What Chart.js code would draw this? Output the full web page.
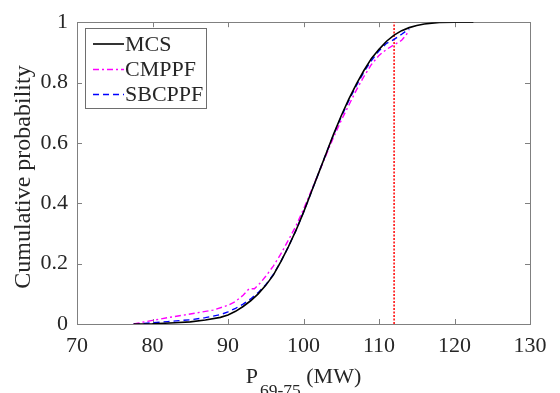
<!DOCTYPE html>
<html>
<head>
<meta charset="utf-8">
<script src="https://cdn.jsdelivr.net/npm/chart.js@4.4.1/dist/chart.umd.min.js"></script>
<style>
  html, body { margin: 0; padding: 0; background: #fff; }
  #wrap { width: 560px; height: 393px; }
  .preload { position: absolute; left: -9999px; font-family: 'Liberation Serif'; font-size: 22px; }
</style>
</head>
<body>
<div class="preload">Cumulative probability 0123456789</div>
<div id="wrap"><canvas id="cdf" width="560" height="393"></canvas></div>
<script>
// values
const mcsX = [77.5, 80, 83, 85, 87, 89, 90, 91, 92, 93, 94, 95, 96, 97, 98, 99, 100, 101, 102, 103, 104, 105, 106, 107, 108, 109, 110, 111, 112, 113, 114, 115, 116, 117, 118, 120, 122.5];
const mcsY = [0, 0.001, 0.004, 0.007, 0.013, 0.022, 0.03, 0.042, 0.058, 0.077, 0.1, 0.128, 0.162, 0.207, 0.256, 0.31, 0.37, 0.435, 0.5, 0.565, 0.63, 0.69, 0.745, 0.795, 0.84, 0.88, 0.91, 0.937, 0.957, 0.972, 0.982, 0.989, 0.994, 0.997, 0.999, 1, 1];

const cmppfX = [77.5, 80, 82, 85, 88, 90, 91, 92, 92.8, 93.5, 94.2, 95, 96, 97, 98, 99, 100, 101, 102, 103, 104, 105, 106, 107, 108, 109, 110, 111, 112, 113, 113.5, 114];
const cmppfY = [0, 0.012, 0.021, 0.033, 0.046, 0.062, 0.075, 0.095, 0.117, 0.117, 0.134, 0.158, 0.192, 0.232, 0.278, 0.325, 0.38, 0.44, 0.5, 0.56, 0.62, 0.675, 0.725, 0.775, 0.82, 0.86, 0.89, 0.91, 0.925, 0.94, 0.955, 0.972];

const sbcppfX = [77.5, 80, 82, 85, 87, 89, 90, 91, 92, 93, 94, 95, 96, 97, 98, 99, 100, 101, 102, 103, 104, 105, 106, 107, 108, 109, 110, 111, 112, 113, 114];
const sbcppfY = [0, 0.004, 0.008, 0.014, 0.021, 0.031, 0.04, 0.052, 0.066, 0.083, 0.104, 0.13, 0.164, 0.207, 0.256, 0.31, 0.37, 0.435, 0.5, 0.565, 0.628, 0.687, 0.74, 0.79, 0.835, 0.873, 0.905, 0.93, 0.943, 0.96, 0.978];

const limitX = [112, 112];
const limitY = [0, 1];

const xTicks = [70, 80, 90, 100, 110, 120, 130];
const yTicks = [0, 0.2, 0.4, 0.6, 0.8, 1];

const FONT = '"Liberation Serif", "Times New Roman", Times, serif';
const TEXT = '#262626';

function pts(xs, ys) {
    return xs.map((x, i) => ({ x: x, y: ys[i] }));
}

const series = [
    { label: 'MCS', data: pts(mcsX, mcsY), borderColor: '#000000', borderDash: [], borderWidth: 1.6 },
    { label: 'CMPPF', data: pts(cmppfX, cmppfY), borderColor: '#ff00ff', borderDash: [6, 3, 2, 3], borderWidth: 1.4 },
    { label: 'SBCPPF', data: pts(sbcppfX, sbcppfY), borderColor: '#0000ff', borderDash: [6, 4], borderWidth: 1.4 }
];

// frame with inward ticks, like the original figure
const framePlugin = {
    id: 'frame',
    beforeDatasetsDraw(chart) {
        const { ctx, chartArea: a, scales } = chart;
        ctx.save();
        ctx.strokeStyle = '#808080';
        ctx.lineWidth = 1;
        ctx.strokeRect(Math.round(a.left) + 0.5, Math.round(a.top) + 0.5, Math.round(a.right - a.left), Math.round(a.bottom - a.top));
        ctx.beginPath();
        xTicks.forEach(v => {
            const px = Math.round(scales.x.getPixelForValue(v)) + 0.5;
            ctx.moveTo(px, a.bottom); ctx.lineTo(px, a.bottom - 5);
            ctx.moveTo(px, a.top); ctx.lineTo(px, a.top + 5);
        });
        yTicks.forEach(v => {
            const py = Math.round(scales.y.getPixelForValue(v)) + 0.5;
            ctx.moveTo(a.left, py); ctx.lineTo(a.left + 5, py);
            ctx.moveTo(a.right, py); ctx.lineTo(a.right - 5, py);
        });
        ctx.stroke();
        ctx.restore();
    },
    afterDraw(chart) {
        const { ctx, chartArea: a } = chart;
        ctx.save();
        ctx.fillStyle = TEXT;

        // y title
        ctx.font = '24px ' + FONT;
        ctx.textAlign = 'center';
        ctx.textBaseline = 'middle';
        ctx.translate(24, 177);
        ctx.rotate(-Math.PI / 2);
        ctx.fillText('Cumulative probability', 0, 0);
        ctx.setTransform(1, 0, 0, 1, 0, 0);

        // x title with subscript
        ctx.textAlign = 'left';
        ctx.textBaseline = 'alphabetic';
        ctx.font = '22px ' + FONT;
        const wP = ctx.measureText('P').width;
        const wU = ctx.measureText(' (MW)').width;
        ctx.font = '17.5px ' + FONT;
        const wS = ctx.measureText('69-75').width;
        const total = wP + 2 + wS + wU;
        let x = (a.left + a.right) / 2 - total / 2;
        ctx.font = '22px ' + FONT;
        ctx.fillText('P', x, 383);
        x += wP + 2;
        ctx.font = '17.5px ' + FONT;
        ctx.fillText('69-75', x, 396);
        x += wS;
        ctx.font = '22px ' + FONT;
        ctx.fillText(' (MW)', x, 383);

        // legend
        ctx.fillStyle = '#ffffff';
        ctx.fillRect(86, 28, 121, 80);
        ctx.strokeStyle = '#6e6e6e';
        ctx.lineWidth = 1;
        ctx.strokeRect(85.5, 28.5, 121, 80);
        const rows = [44, 69.5, 94.5];
        series.forEach((s, i) => {
            const y = rows[i];
            ctx.beginPath();
            ctx.strokeStyle = s.borderColor;
            ctx.lineWidth = s.borderWidth;
            ctx.setLineDash(s.borderDash);
            ctx.moveTo(93, y);
            ctx.lineTo(124, y);
            ctx.stroke();
            ctx.setLineDash([]);
            ctx.fillStyle = TEXT;
            ctx.font = '22px ' + FONT;
            ctx.textBaseline = 'middle';
            ctx.fillText(s.label, 125, y + 1);
        });
        ctx.restore();
    }
};

const datasets = series.map(s => ({
    label: s.label,
    data: s.data,
    borderColor: s.borderColor,
    borderDash: s.borderDash,
    borderWidth: s.borderWidth,
    showLine: true,
    pointRadius: 0,
    tension: 0
}));

datasets.push({
    label: 'limit',
    data: pts(limitX, limitY),
    borderColor: '#ff0000',
    borderDash: [2, 1.5],
    borderWidth: 1.5,
    showLine: true,
    pointRadius: 0
});

function drawChart() {
    new Chart(document.getElementById('cdf'), {
        type: 'scatter',
        data: { datasets: datasets },
        options: {
            responsive: false,
            animation: false,
            devicePixelRatio: 1,
            layout: { padding: { left: 0, top: 19, right: 30, bottom: 0 } },
            plugins: {
                legend: { display: false },
                tooltip: { enabled: false }
            },
            scales: {
                x: {
                    type: 'linear',
                    min: 70,
                    max: 130,
                    afterBuildTicks: axis => { axis.ticks = xTicks.map(v => ({ value: v })); },
                    afterFit: axis => { axis.height = 69; },
                    grid: { display: false, drawTicks: false },
                    border: { display: false },
                    ticks: { padding: 9, color: TEXT, font: { family: FONT, size: 22 }, maxRotation: 0 }
                },
                y: {
                    type: 'linear',
                    min: 0,
                    max: 1,
                    afterBuildTicks: axis => { axis.ticks = yTicks.map(v => ({ value: v })); },
                    afterFit: axis => { axis.width = 77; },
                    grid: { display: false, drawTicks: false },
                    border: { display: false },
                    ticks: {
                        padding: 9,
                        color: TEXT,
                        font: { family: FONT, size: 22 },
                        callback: v => String(Math.round(v * 10) / 10)
                    }
                }
            }
        },
        plugins: [framePlugin]
    });
}

if (document.fonts && document.fonts.load) {
    Promise.all([
        document.fonts.load('22px "Liberation Serif"'),
        document.fonts.load('17.5px "Liberation Serif"')
    ]).then(drawChart, drawChart);
} else {
    drawChart();
}
</script>
</body>
</html>
